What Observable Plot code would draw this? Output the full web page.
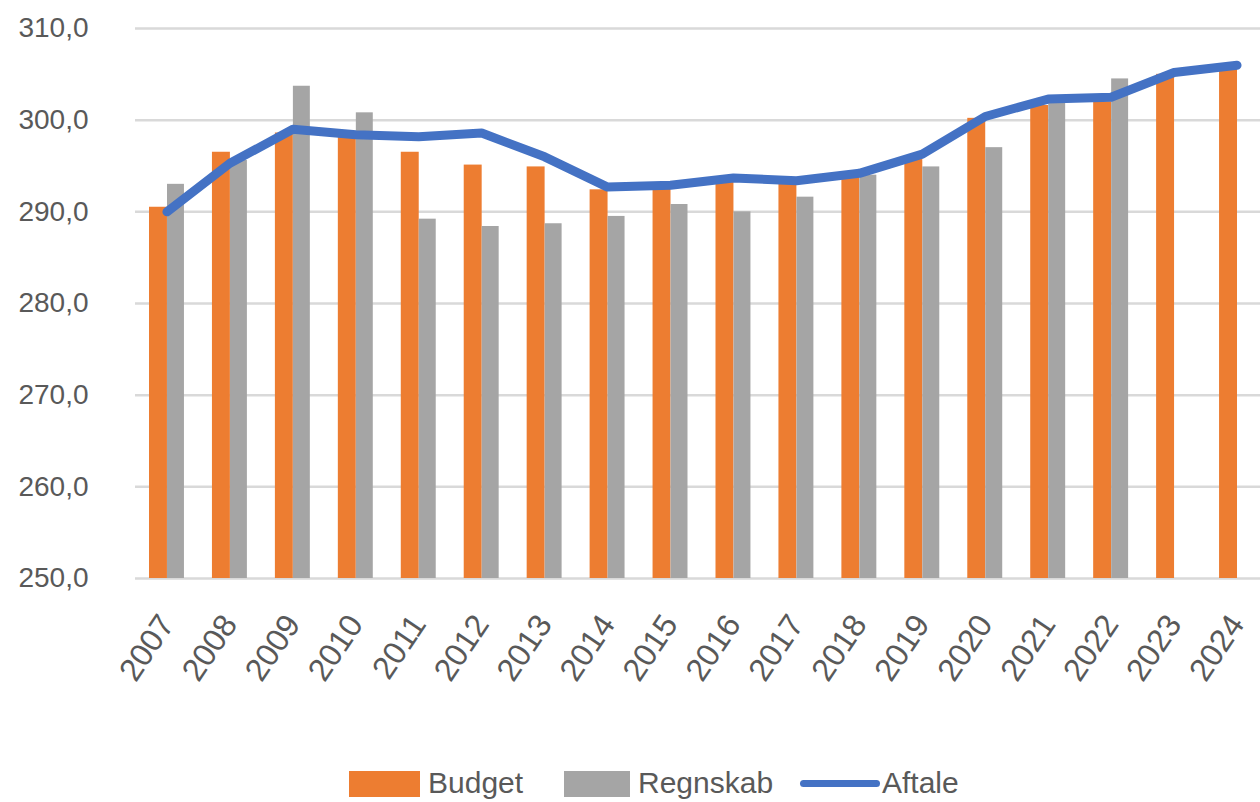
<!DOCTYPE html>
<html>
<head>
<meta charset="utf-8">
<script src="https://cdn.jsdelivr.net/npm/d3@7"></script>
<script src="https://cdn.jsdelivr.net/npm/@observablehq/plot@0.6"></script>
<style>
  body { margin: 0; background: #fff; font-family: "Liberation Sans", Arial, sans-serif; }
  #chart svg { display: block; }
  #legend { position: relative; width: 1260px; height: 62px; color: #595959; font-size: 30px; }
  #legend .sw { position: absolute; }
  #legend .lb { position: absolute; line-height: 36px; white-space: nowrap; }
</style>
</head>
<body>
<div id="chart"></div>
<div id="legend">
  <div class="sw" style="left:349px;top:31px;width:71px;height:26px;background:#ED7D31"></div>
  <div class="lb" style="left:428px;top:25px">Budget</div>
  <div class="sw" style="left:564px;top:31px;width:66px;height:26px;background:#A5A5A5"></div>
  <div class="lb" style="left:638px;top:25px">Regnskab</div>
  <div class="sw" style="left:800px;top:40px;width:80px;height:7px;border-radius:4px;background:#4472C4"></div>
  <div class="lb" style="left:882px;top:25px">Aftale</div>
</div>
<script>
const years = ["2007","2008","2009","2010","2011","2012","2013","2014","2015","2016","2017","2018","2019","2020","2021","2022","2023","2024"];
const budget = [290.5, 296.5, 298.6, 298.1, 296.5, 295.1, 294.9, 292.4, 292.5, 293.3, 293.2, 294.0, 296.0, 300.2, 301.6, 302.0, 305.0, 305.8];
const regnskab = [293.0, 295.6, 303.7, 300.8, 289.2, 288.4, 288.7, 289.5, 290.8, 290.0, 291.6, 294.0, 294.9, 297.0, 302.0, 304.5, null, null];
const aftale = [290.0, 295.3, 299.0, 298.4, 298.2, 298.6, 296.0, 292.7, 292.9, 293.7, 293.4, 294.2, 296.3, 300.4, 302.3, 302.5, 305.2, 306.0];
const yTicks = [250, 260, 270, 280, 290, 300, 310];

const budgetData = years.map((y, i) => ({year: y, value: budget[i]}));
const regnskabData = years.map((y, i) => ({year: y, value: regnskab[i]})).filter(d => d.value != null);
const aftaleData = years.map((y, i) => ({year: y, value: aftale[i]}));

const chart = Plot.plot({
  width: 1260,
  height: 740,
  marginTop: 28,
  marginBottom: 162,
  marginLeft: 135,
  marginRight: -8,
  style: {fontFamily: "Liberation Sans, Arial, sans-serif", fontSize: "28px", color: "#595959", background: "#fff", overflow: "hidden"},
  x: {type: "band", domain: years, padding: 0, round: false, label: null},
  y: {domain: [250, 310], label: null},
  marks: [
    Plot.gridY(yTicks, {stroke: "#D9D9D9", strokeOpacity: 1, strokeWidth: 2.5}),
    Plot.barY(budgetData, {x: "year", y1: () => 250, y2: "value", fill: "#ED7D31", insetLeft: 14, insetRight: 31}),
    Plot.barY(regnskabData, {x: "year", y1: () => 250, y2: "value", fill: "#A5A5A5", insetLeft: 32, insetRight: 14}),
    Plot.line(aftaleData, {x: "year", y: "value", stroke: "#4472C4", strokeWidth: 9, strokeLinecap: "round", strokeLinejoin: "round"}),
    Plot.axisY(yTicks, {tickSize: 0, tickPadding: 47, label: null, tickFormat: d => d.toFixed(1).replace(".", ","), fill: "#595959", fontSize: 28}),
    Plot.axisX({tickSize: 0, tickPadding: 40, tickRotate: -56, label: null, fill: "#595959", fontSize: 32})
  ]
});
document.getElementById("chart").appendChild(chart);
</script>
</body>
</html>
